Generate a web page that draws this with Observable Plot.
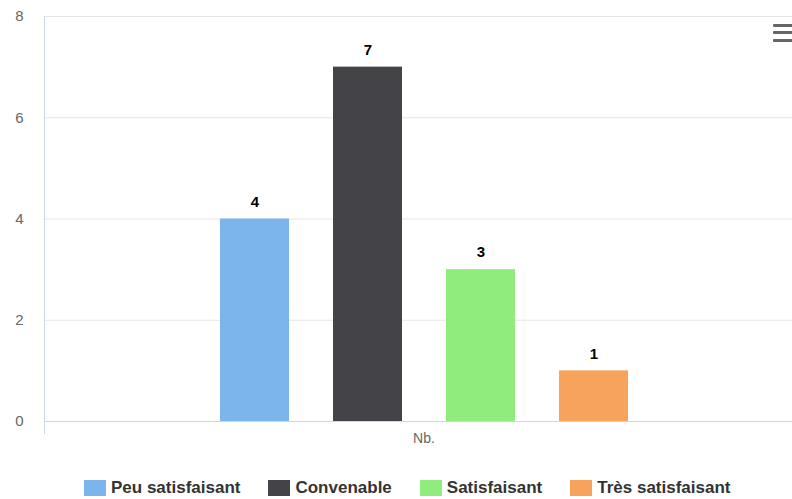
<!DOCTYPE html>
<html><head><meta charset="utf-8">
<script src="https://cdn.jsdelivr.net/npm/d3@7"></script>
<script src="https://cdn.jsdelivr.net/npm/@observablehq/plot@0.6"></script>
<style>
html,body{margin:0;padding:0;background:#fff;overflow:hidden;width:792px;height:499px}
#wrap{position:relative;width:792px;height:499px;overflow:hidden;font-family:"Liberation Sans",Arial,Helvetica,sans-serif}
#chart svg{display:block;max-width:none}
#menu{position:absolute;left:773px;top:24px;width:20px}
#menu div{height:3px;background:#666;margin-bottom:4.3px;border-radius:1px}
#legend{position:absolute;left:84px;top:480px;display:flex;gap:28px;align-items:center}
.item{display:flex;align-items:center;gap:5px;font-weight:bold;font-size:17px;color:#333;line-height:16px}
.sw{width:22px;height:16px}
</style></head>
<body><div id="wrap"><div id="chart"></div><div id="menu"><div></div><div></div><div></div></div><div id="legend"></div></div>
<script>
const categories = ["Nb."];
const series = ["Peu satisfaisant", "Convenable", "Satisfaisant", "Très satisfaisant"];
const values = [4, 7, 3, 1];
const colors = ["#7cb5ec", "#434348", "#90ed7d", "#f7a35c"];
const yTicks = [0, 2, 4, 6, 8];

const data = series.map((s, i) => ({category: categories[0], series: s, value: values[i]}));

const chart = Plot.plot({
  width: 803, height: 462,
  marginLeft: 44, marginRight: 0, marginTop: 16, marginBottom: 41,
  style: {fontFamily: '"Liberation Sans", Arial, Helvetica, sans-serif', fontSize: "14px", color: "#666", background: "transparent", maxWidth: "none"},
  fx: {domain: categories, padding: 0, label: null},
  x: {domain: series, paddingInner: 0.39, paddingOuter: 1.54, axis: null},
  y: {domain: [0, 8], ticks: yTicks},
  color: {domain: series, range: colors},
  marks: [
    Plot.gridY(yTicks, {stroke: "#e6e6e6", strokeOpacity: 1}),
    Plot.ruleY([0], {stroke: "#ccd6eb"}),
    Plot.frame({anchor: "left", stroke: "#ccd6eb", insetBottom: -12}),
    Plot.barY(data, {fx: "category", x: "series", y: "value", fill: "series"}),
    Plot.text(data, {fx: "category", x: "series", y: "value", text: "value", dy: -17, fontWeight: "bold", fontSize: 15, fill: "#000"}),
    Plot.axisY(yTicks, {tickSize: 0, tickPadding: 21, tickFormat: d3.format("d"), label: null, fontSize: 15, fill: "#666"}),
    Plot.axisFx({anchor: "bottom", tickSize: 0, tickPadding: 12, label: null, fontSize: 14, fill: "#666"})
  ]
});
document.getElementById("chart").appendChild(chart);

const legend = document.getElementById("legend");
series.forEach((s, i) => {
  const it = document.createElement("div");
  it.className = "item";
  const sw = document.createElement("div");
  sw.className = "sw";
  sw.style.background = colors[i];
  const t = document.createElement("span");
  t.textContent = s;
  it.appendChild(sw); it.appendChild(t);
  legend.appendChild(it);
});
</script>
</body></html>
